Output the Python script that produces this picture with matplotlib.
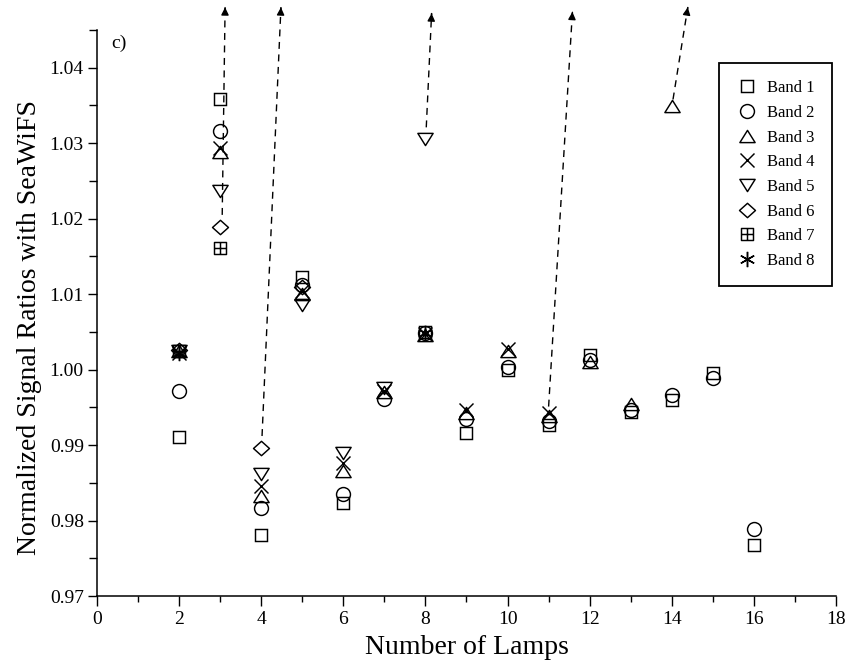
import numpy as np
import matplotlib
matplotlib.use("Agg")
import matplotlib.pyplot as plt
from matplotlib.path import Path
from matplotlib.ticker import MultipleLocator, FormatStrFormatter

plt.rcParams['font.family'] = ['Liberation Serif', 'DejaVu Serif']

nan = np.nan
lamps = [2, 3, 4, 5, 6, 7, 8, 9, 10, 11, 12, 13, 14, 15, 16]
band1 = [0.9911, 1.0359, 0.9781, 1.0123, 0.9823, nan, 1.0050, 0.9916, 0.9999, 0.9926, 1.0019, 0.9944, 0.9960, 0.9996, 0.9767]
band2 = [0.9972, 1.0316, 0.9817, 1.0112, 0.9835, 0.9961, 1.0048, 0.9934, 1.0004, 0.9932, 1.0013, 0.9947, 0.9966, 0.9989, 0.9789]
band3 = [1.0025, 1.0288, 0.9833, 1.0100, 0.9866, 0.9970, 1.0046, 0.9943, 1.0025, 0.9938, 1.0010, 0.9955, 1.0349, nan, nan]
band4 = [1.0022, 1.0294, 0.9846, 1.0104, 0.9876, 0.9972, 1.0047, 0.9946, 1.0027, 0.9943, nan, nan, nan, nan, nan]
band5 = [1.0024, 1.0237, 0.9862, 1.0086, 0.9889, 0.9975, 1.0305, nan, nan, nan, nan, nan, nan, nan, nan]
band6 = [1.0026, 1.0189, 0.9896, 1.0110, nan, nan, nan, nan, nan, nan, nan, nan, nan, nan, nan]
band7 = [1.0025, 1.0161, nan, nan, nan, nan, nan, nan, nan, nan, nan, nan, nan, nan, nan]
band8 = [1.0022, nan, nan, nan, nan, nan, 1.0048, nan, nan, nan, nan, nan, nan, nan, nan]
band_labels = ['Band 1', 'Band 2', 'Band 3', 'Band 4', 'Band 5', 'Band 6', 'Band 7', 'Band 8']

# off-scale indicators (dashed arrows)
arrow_x0 = [3.05, 4.02, 8.02, 11.00, 14.03]
arrow_y0 = [1.0205, 0.9912, 1.0321, 0.9951, 1.0358]
arrow_x1 = [3.12, 4.48, 8.15, 11.58, 14.39]
arrow_y1 = [1.0480, 1.0480, 1.0472, 1.0474, 1.0480]

# marker shapes
tri_up = Path([(-1, -0.8), (1, -0.8), (0, 0.8), (-1, -0.8)],
              [Path.MOVETO, Path.LINETO, Path.LINETO, Path.CLOSEPOLY])
tri_dn = Path([(-1, 0.8), (1, 0.8), (0, -0.8), (-1, 0.8)],
              [Path.MOVETO, Path.LINETO, Path.LINETO, Path.CLOSEPOLY])
diamond = Path([(-1, 0), (0, 0.9), (1, 0), (0, -0.9), (-1, 0)],
               [Path.MOVETO, Path.LINETO, Path.LINETO, Path.LINETO, Path.CLOSEPOLY])
plus_sq = Path([(-1, -1), (1, -1), (1, 1), (-1, 1), (-1, -1),
                (-1, 0), (1, 0), (0, -1), (0, 1)],
               [Path.MOVETO, Path.LINETO, Path.LINETO, Path.LINETO, Path.CLOSEPOLY,
                Path.MOVETO, Path.LINETO, Path.MOVETO, Path.LINETO])

series = [band1, band2, band3, band4, band5, band6, band7, band8]
markers = ['s', 'o', tri_up, 'x', tri_dn, diamond, plus_sq, (6, 2, 0)]
msizes = [8.5, 10, 11, 10.5, 11, 11.5, 9, 11]

fig = plt.figure(figsize=(8.48, 6.68), dpi=100)
ax = fig.add_axes([97/848, 1-596/668, 739/848, 566/668])

for vals, m, ms, lab in zip(series, markers, msizes, band_labels):
    ax.plot(lamps, vals, linestyle='none', marker=m, markersize=ms,
            markerfacecolor='none', markeredgecolor='black',
            markeredgewidth=1.05, color='black', label=lab, clip_on=False)

for x0, y0, x1, y1 in zip(arrow_x0, arrow_y0, arrow_x1, arrow_y1):
    ax.plot([x0, x1], [y0, y1], color='black', lw=1.0, linestyle=(0, (5, 4)),
            clip_on=False)
    ax.annotate('', xy=(x1, y1), xytext=(x1 - (x1 - x0) * 0.001, y1 - (y1 - y0) * 0.001),
                arrowprops=dict(arrowstyle='-|>', color='black', lw=1.0,
                                mutation_scale=11, shrinkA=0, shrinkB=0),
                annotation_clip=False)

ax.set_xlim(0, 18)
ax.set_ylim(0.97, 1.045)
ax.xaxis.set_major_locator(MultipleLocator(2))
ax.xaxis.set_minor_locator(MultipleLocator(1))
ax.yaxis.set_major_locator(MultipleLocator(0.01))
ax.yaxis.set_minor_locator(MultipleLocator(0.005))
ax.yaxis.set_major_formatter(FormatStrFormatter('%.2f'))

for s in ['top', 'right']:
    ax.spines[s].set_visible(False)
for s in ['left', 'bottom']:
    ax.spines[s].set_linewidth(1.1)

ax.tick_params(axis='both', which='both', direction='out', width=1.0,
               labelsize=14, colors='black')
ax.tick_params(axis='x', which='major', length=7, pad=4)
ax.tick_params(axis='x', which='minor', length=4.5)
ax.tick_params(axis='y', which='major', length=6.5, pad=3)
ax.tick_params(axis='y', which='minor', length=5.5)

ax.set_xlabel('Number of Lamps', fontsize=20, labelpad=5)
ax.set_ylabel('Normalized Signal Ratios with SeaWiFS', fontsize=20)
ax.yaxis.set_label_coords(-0.074, 0.475)

ax.text(0.03, 0.977, 'c)', transform=ax.transAxes, fontsize=14,
        ha='center', va='center')

leg = ax.legend(loc='upper right', bbox_to_anchor=(0.994, 0.942),
                fontsize=12, frameon=True, fancybox=False, shadow=False,
                borderpad=1.05, labelspacing=0.52, handlelength=1.3,
                handletextpad=0.5, borderaxespad=0, numpoints=1)
leg.get_frame().set_edgecolor('black')
leg.get_frame().set_linewidth(1.3)
leg.get_frame().set_alpha(1)

fig.savefig('out.png', dpi=100)
